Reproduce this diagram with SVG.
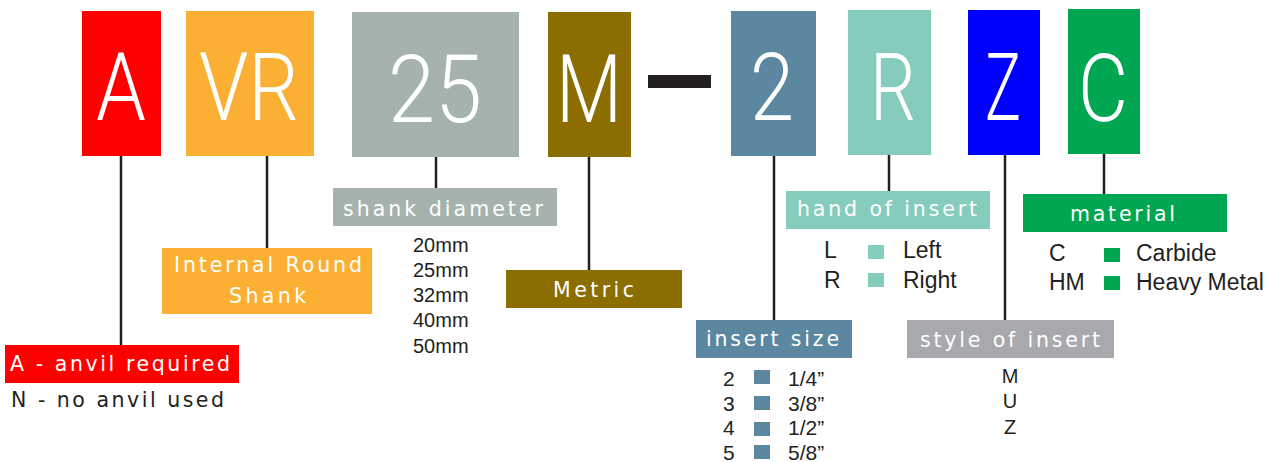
<svg xmlns="http://www.w3.org/2000/svg" width="1282" height="462" viewBox="0 0 1282 462">
<style>
.big{font-family:Roboto,"Liberation Sans",sans-serif;font-weight:300;font-size:94px;fill:#fff;text-anchor:middle}
.lbl{font-family:"DejaVu Sans","Liberation Sans",sans-serif;font-size:20.5px;fill:#fff}
.lst{font-family:"Liberation Sans",Arial,sans-serif;fill:#231f20}
.ln{stroke:#231f20;stroke-width:2.5;fill:none}
</style>
<rect width="1282" height="462" fill="#fff"/>
<g id="connectors">
<line class="ln" x1="121" y1="156" x2="121" y2="345"/>
<line class="ln" x1="267" y1="156" x2="267" y2="248"/>
<line class="ln" x1="436" y1="157" x2="436" y2="188"/>
<line class="ln" x1="589" y1="157" x2="589" y2="270"/>
<line class="ln" x1="774" y1="156" x2="774" y2="320"/>
<line class="ln" x1="889" y1="155" x2="889" y2="191"/>
<line class="ln" x1="1005" y1="155" x2="1005" y2="320"/>
<line class="ln" x1="1104" y1="154" x2="1104" y2="194"/>
</g>
<g id="code-A"><rect x="82" y="11" width="79" height="145" fill="#ff0000"/><text class="big" x="121" y="120" textLength="50" lengthAdjust="spacingAndGlyphs">A</text></g>
<g id="code-VR"><rect x="186" y="11" width="128" height="145" fill="#fbb034"/><text class="big" x="249" y="120" textLength="100" lengthAdjust="spacingAndGlyphs">VR</text></g>
<g id="code-25"><rect x="352" y="12" width="167" height="145" fill="#a5b3ac"/><text class="big" x="435" y="122" textLength="94" lengthAdjust="spacingAndGlyphs">25</text></g>
<g id="code-M"><rect x="548" y="12" width="83" height="145" fill="#8b6d00"/><text class="big" x="589" y="122" textLength="66" lengthAdjust="spacingAndGlyphs">M</text></g>
<g id="dash"><rect x="648" y="75" width="63" height="13" fill="#231f20"/></g>
<g id="code-2"><rect x="731" y="11" width="85" height="145" fill="#5b87a0"/><text class="big" x="772" y="120" textLength="44" lengthAdjust="spacingAndGlyphs">2</text></g>
<g id="code-R"><rect x="848" y="10" width="83" height="145" fill="#86ccbc"/><text class="big" x="893" y="120" textLength="46" lengthAdjust="spacingAndGlyphs">R</text></g>
<g id="code-Z"><rect x="968" y="10" width="72" height="145" fill="#0000ff"/><text class="big" x="1003" y="120" textLength="36" lengthAdjust="spacingAndGlyphs">Z</text></g>
<g id="code-C"><rect x="1068" y="9" width="72" height="145" fill="#00a651"/><text class="big" x="1103" y="121" textLength="50" lengthAdjust="spacingAndGlyphs">C</text></g>

<g id="anvil">
<rect x="5" y="345" width="234" height="38" fill="#ff0000"/>
<text class="lbl" x="10" y="371" textLength="220">A - anvil required</text>
<text class="lbl" x="11" y="407" textLength="213" style="fill:#231f20">N - no anvil used</text>
</g>
<g id="shank-type">
<rect x="162" y="248" width="210" height="66" fill="#fbb034"/>
<text class="lbl" x="174" y="272" textLength="188">Internal Round</text>
<text class="lbl" x="229" y="303" textLength="77">Shank</text>
</g>
<g id="shank-diameter">
<rect x="333" y="188" width="224" height="38" fill="#a5b3ac"/>
<text class="lbl" x="343" y="216" textLength="200">shank diameter</text>
<g class="lst" font-size="20">
<text x="413" y="252">20mm</text>
<text x="413" y="277">25mm</text>
<text x="413" y="302">32mm</text>
<text x="413" y="327">40mm</text>
<text x="413" y="353">50mm</text>
</g>
</g>
<g id="metric">
<rect x="506" y="270" width="176" height="38" fill="#8b6d00"/>
<text class="lbl" x="553" y="297" textLength="81">Metric</text>
</g>
<g id="insert-size">
<rect x="696" y="320" width="156" height="38" fill="#5b87a0"/>
<text class="lbl" x="706" y="346" textLength="133">insert size</text>
<g class="lst" font-size="21">
<text x="723" y="386">2</text><text x="788" y="386">1/4”</text>
<text x="723" y="411">3</text><text x="788" y="411">3/8”</text>
<text x="723" y="435">4</text><text x="788" y="435">1/2”</text>
<text x="723" y="460">5</text><text x="788" y="460">5/8”</text>
</g>
<g fill="#5b87a0">
<rect x="754" y="370" width="16" height="14"/>
<rect x="754" y="396" width="16" height="14"/>
<rect x="754" y="422" width="16" height="14"/>
<rect x="754" y="445" width="16" height="14"/>
</g>
</g>
<g id="hand">
<rect x="786" y="191" width="204" height="38" fill="#86ccbc"/>
<text class="lbl" x="797" y="216" textLength="180">hand of insert</text>
<g class="lst" font-size="23">
<text x="824" y="258">L</text><text x="903" y="258">Left</text>
<text x="824" y="288">R</text><text x="903" y="288">Right</text>
</g>
<g fill="#86ccbc">
<rect x="868" y="245" width="16" height="14"/>
<rect x="868" y="273" width="16" height="14"/>
</g>
</g>
<g id="style">
<rect x="907" y="320" width="207" height="38" fill="#a7a9ac"/>
<text class="lbl" x="920" y="347" textLength="180">style of insert</text>
<g class="lst" font-size="20" text-anchor="middle">
<text x="1010" y="383">M</text>
<text x="1010" y="408">U</text>
<text x="1010" y="434">Z</text>
</g>
</g>
<g id="material">
<rect x="1023" y="194" width="204" height="38" fill="#00a651"/>
<text class="lbl" x="1070" y="221" textLength="105">material</text>
<g class="lst" font-size="23">
<text x="1049" y="261">C</text><text x="1136" y="261">Carbide</text>
<text x="1049" y="290">HM</text><text x="1136" y="290">Heavy Metal</text>
</g>
<g fill="#00a651">
<rect x="1104" y="248" width="16" height="14"/>
<rect x="1104" y="276" width="16" height="14"/>
</g>
</g>
</svg>
